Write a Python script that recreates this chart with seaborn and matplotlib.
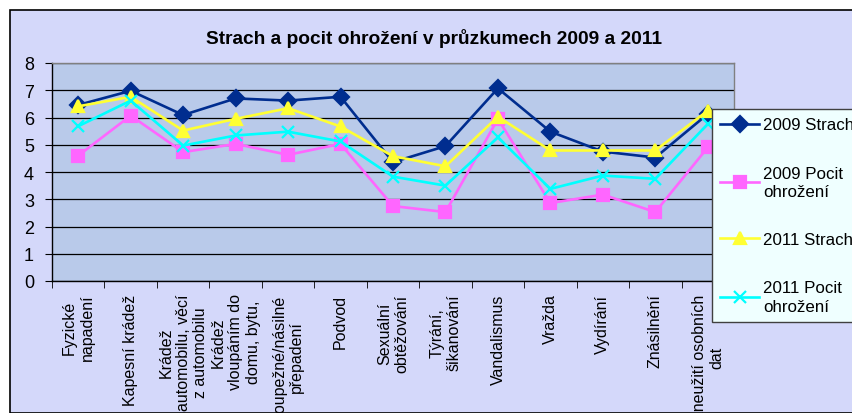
import numpy as np
import pandas as pd
import seaborn as sns
from matplotlib import pyplot as plt
from matplotlib.patches import Rectangle
from matplotlib.ticker import FixedLocator

categories = [
    "Fyzické\nnapadení",
    "Kapesní krádež",
    "Krádež\nautomobilu, věcí\nz automobilu",
    "Krádež\nvloupáním do\ndomu, bytu,",
    "Loupežné/násilné\npřepadení",
    "Podvod",
    "Sexuální\nobtěžování",
    "Týrání,\nšikanování",
    "Vandalismus",
    "Vražda",
    "Vydírání",
    "Znásilnění",
    "Zneužití osobních\ndat",
]

strach_2009 = [6.46, 6.98, 6.09, 6.70, 6.62, 6.76, 4.36, 4.95, 7.07, 5.48, 4.75, 4.53, 6.13]
pocit_2009 = [4.60, 6.07, 4.73, 5.03, 4.63, 5.03, 2.75, 2.53, 5.95, 2.86, 3.17, 2.53, 4.90]
strach_2011 = [6.41, 6.76, 5.52, 5.95, 6.34, 5.67, 4.58, 4.21, 6.03, 4.79, 4.79, 4.79, 6.25]
pocit_2011 = [5.68, 6.62, 4.97, 5.34, 5.48, 5.12, 3.83, 3.50, 5.27, 3.38, 3.87, 3.75, 5.76]

series_names = ["2009 Strach", "2009 Pocit\nohrožení", "2011 Strach", "2011 Pocit\nohrožení"]
series_values = [strach_2009, pocit_2009, strach_2011, pocit_2011]
series_colors = ["#002D8F", "#FF66FF", "#FFFF33", "#00FFFF"]
series_markers = ["D", "s", "^", "x"]

plt.rcParams["font.family"] = ["Liberation Sans", "DejaVu Sans"]

fig = plt.figure(figsize=(8.53, 4.14), dpi=100)
fig.patch.set_facecolor("white")
fig.add_artist(Rectangle((10 / 853, 0), 1, 1 - 11 / 414, transform=fig.transFigure,
                         facecolor="#D4D8FA", edgecolor="black", linewidth=1.2, zorder=-10))

ax = fig.add_axes([52 / 853, (414 - 282) / 414, 682 / 853, 218 / 414])
ax.set_facecolor("#B9CAEA")

for name, vals, color, marker in zip(series_names, series_values, series_colors, series_markers):
    df = pd.DataFrame({"Kategorie": categories, "Hodnota": vals})
    sns.lineplot(data=df, x="Kategorie", y="Hodnota", sort=False, color=color,
                 marker=marker, markersize=8.5, markeredgewidth=1.6,
                 markeredgecolor=color, linewidth=1.9, label=name, ax=ax)

ax.set_xlim(-0.5, len(categories) - 0.5)
ax.set_ylim(0, 8)
ax.set_yticks(range(9))
ax.set_xticks(range(len(categories)))
ax.set_xticklabels(categories, rotation=90, ha="center", va="top", multialignment="center",
                   fontsize=11.5)
ax.xaxis.set_minor_locator(FixedLocator(np.arange(-0.5, len(categories), 1)))
ax.tick_params(axis="x", which="major", length=0, pad=9)
ax.tick_params(axis="x", which="minor", length=5, direction="out", color="black")
ax.tick_params(axis="y", length=5, direction="out", pad=8, labelsize=13)
ax.grid(axis="y", color="black", linewidth=0.9)
ax.set_axisbelow(True)
ax.set_xlabel("")
ax.set_ylabel("")
for side in ["top", "right"]:
    ax.spines[side].set_color("#808080")
    ax.spines[side].set_linewidth(1)
for side in ["left", "bottom"]:
    ax.spines[side].set_color("black")
    ax.spines[side].set_linewidth(1)

fig.text(434 / 853, 1 - 38 / 414, "Strach a pocit ohrožení v průzkumech 2009 a 2011",
         ha="center", va="center", fontsize=13.8, fontweight="bold")

handles, labels = ax.get_legend_handles_labels()
ax.get_legend().remove()
leg = fig.legend(handles, labels, loc="upper left", bbox_to_anchor=(712 / 853, 1 - 110 / 414),
                 borderaxespad=0, frameon=True, fancybox=False, fontsize=12.2,
                 labelspacing=1.95, handlelength=2.3, handletextpad=0.2, borderpad=0.5)
leg._legend_box.sep = 0
for t in leg.get_texts():
    t.set_linespacing(1.3)
leg.get_frame().set_facecolor("#EFFFFF")
leg.get_frame().set_edgecolor("#404040")
leg.get_frame().set_alpha(1)

fig.savefig("out.png", dpi=100)
